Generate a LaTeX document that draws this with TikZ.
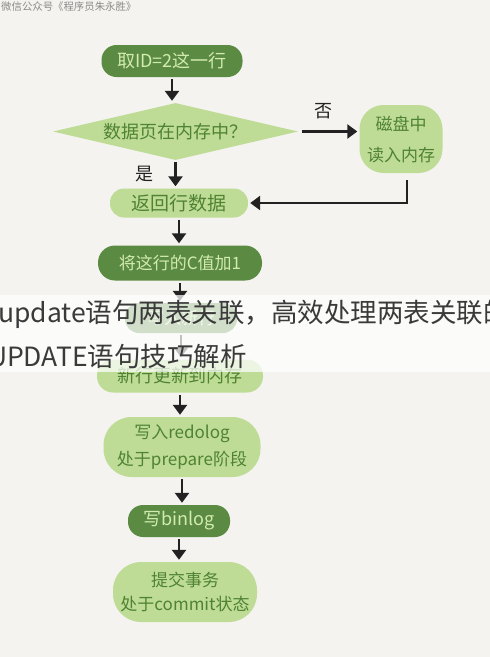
\documentclass[tikz,border=0pt]{standalone}
\usepackage{fontspec}
\setmainfont{Noto Sans CJK SC}
\usetikzlibrary{shapes.geometric,arrows.meta}
\definecolor{bg}{HTML}{F4F3EF}
\definecolor{dgreen}{HTML}{5B8A42}
\definecolor{lgreen}{HTML}{BEDC96}
\definecolor{dtext}{HTML}{4F8233}
\definecolor{ltext}{HTML}{D2EBAE}
\definecolor{ink}{HTML}{222222}
\definecolor{bantext}{HTML}{3A3A3A}
\definecolor{wmtext}{HTML}{8A8A8A}
\begin{document}
\begin{tikzpicture}[x=1pt,y=-1pt,
  box/.style={rectangle, inner sep=0pt, align=center},
  darkbox/.style={box, fill=dgreen, text=ltext},
  lightbox/.style={box, fill=lgreen, text=dtext},
  arr/.style={draw=ink, line width=2.8pt, -{Triangle[width=14pt,length=10pt]}, shorten <=2pt, shorten >=2pt},
  lbl/.style={text=ink, font=\fontsize{18}{18}\selectfont, inner sep=0pt},
  fs/.style={font=\fontsize{#1}{#1}\selectfont}
]
\useasboundingbox (0,0) rectangle (490,657);
\fill[bg] (0,0) rectangle (490,657);
\clip (0,0) rectangle (490,657);

\node[anchor=north west, inner sep=0pt, text=wmtext, fs=10.4] (wm) at (1,1) {微信公众号《程序员朱永胜》};

\node[darkbox, minimum width=141pt, minimum height=32pt, rounded corners=15pt, fs=18] (n1) at (172,61) {取ID=2这一行};
\node[diamond, aspect=4.3, fill=lgreen, text=dtext, inner sep=0pt, minimum width=245pt, minimum height=57pt, fs=18] (d) at (175.5,131.5) {数据页在内存中？};
\node[lightbox, minimum width=83pt, minimum height=68pt, rounded corners=24pt, font=\fontsize{17}{31}\selectfont] (disk) at (401,139) {磁盘中\\读入内存};
\node[lightbox, minimum width=138pt, minimum height=29pt, rounded corners=14pt, fs=19] (ret) at (179,203) {返回行数据};
\node[darkbox, minimum width=164pt, minimum height=35pt, rounded corners=17pt, fs=17] (inc) at (180,263) {将这行的C值加1};
\node[darkbox, minimum width=112pt, minimum height=30pt, rounded corners=14pt, fs=17] (wnew) at (181,318) {写入新行};
\node[lightbox, minimum width=166pt, minimum height=33pt, rounded corners=16pt, fs=18] (mem) at (180,376) {新行更新到内存};
\node[lightbox, minimum width=157pt, minimum height=60pt, rounded corners=28pt, font=\fontsize{17}{27}\selectfont] (redo) at (182,447) {写入redolog\\处于prepare阶段};
\node[darkbox, minimum width=102pt, minimum height=32pt, rounded corners=15pt, fs=18] (bin) at (179,521) {写binlog};
\node[lightbox, minimum width=144pt, minimum height=60pt, rounded corners=28pt, font=\fontsize{17}{24}\selectfont] (commit) at (185,592) {提交事务\\处于commit状态};

\node[lbl] (no) at (323,111) {否};
\node[lbl] (yes) at (144,174) {是};

\draw[arr] (n1.south) -- (n1.south |- d.north);
\draw[arr] (d.south) -- (d.south |- ret.north);
\draw[arr, shorten <=4pt] (d.east) -- (disk.west |- d.east);
\draw[arr, shorten <=7pt] ([xshift=6pt]disk.south) |- (ret.east);
\draw[arr] (ret.south) -- (ret.south |- inc.north);
\draw[arr] (inc.south) -- (inc.south |- wnew.north);
\draw[arr] (wnew.south) -- (wnew.south |- mem.north);
\draw[arr] (mem.south) -- (mem.south |- redo.north);
\draw[arr] (redo.south) -- (redo.south |- bin.north);
\draw[arr] (bin.south) -- (bin.south |- commit.north);

\fill[white, opacity=0.72] (0,295) rectangle (490,372);
\node[anchor=west, inner sep=0pt, text=bantext, fs=26.5] (b1) at (-2,314) {update语句两表关联，高效处理两表关联的};
\node[anchor=east, inner sep=0pt, text=bantext, fs=26.5] (b2) at (247,356) {UPDATE语句技巧解析};
\end{tikzpicture}
\end{document}
